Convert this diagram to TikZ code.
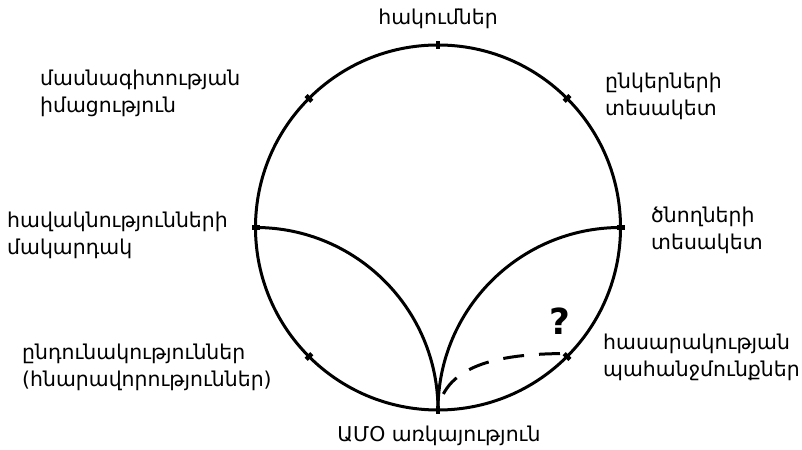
\documentclass[tikz,border=0pt]{standalone}
\usepackage{fontspec}
\setmainfont{DejaVu Sans}
\usetikzlibrary{positioning}

\begin{document}
\begin{tikzpicture}[
    x=1bp, y=1bp,
    ring/.style={draw, circle, line width=3bp, minimum size=365bp, inner sep=0pt, outer sep=0pt},
    curve/.style={line width=3bp},
    tick/.style={line width=4.5bp},
    lbl/.style={font=\fontsize{20.5}{28}\selectfont, align=left, inner sep=0pt, anchor=base west},
    quest/.style={font=\fontsize{36}{36}\selectfont\bfseries, inner sep=0pt, anchor=base}
]
\useasboundingbox (0,0) rectangle (802,450);

\node[ring] (ring) at (438,222.5) {};

% ticks on the circle
\foreach \a in {0,45,...,315}
    \draw[tick] (ring.\a) ++(\a:-4) -- ++(\a:8);

% two inner arcs
\draw[curve] (ring.west) arc[start angle=90, end angle=0, radius=182.5bp];
\draw[curve] (ring.east) arc[start angle=90, end angle=180, radius=182.5bp];

% open question
\draw[curve, dash pattern=on 21bp off 15bp, dash phase=19bp] (ring.south) .. controls +(80:45) and +(-70,0) .. ([yshift=3bp]ring.-45);
\node[quest] (q) at (560,115) {?};

\node[lbl, anchor=base] (hak) at (438,425) {հակումներ};
\node[lbl] (mas) at (40,337) {մասնագիտության\\իմացություն};
\node[lbl] (ynk) at (605,334) {ընկերների\\տեսակետ};
\node[lbl] (hav) at (7,195) {հավակնությունների\\մակարդակ};
\node[lbl] (cno) at (651,200) {ծնողների\\տեսակետ};
\node[lbl] (ynd) at (22,63) {ընդունակություններ\\(հնարավորություններ)};
\node[lbl] (has) at (603,73) {հասարակության\\պահանջմունքներ};
\node[lbl, anchor=base] (amo) at (439,8) {ԱՄՕ առկայություն};

\end{tikzpicture}
\end{document}
